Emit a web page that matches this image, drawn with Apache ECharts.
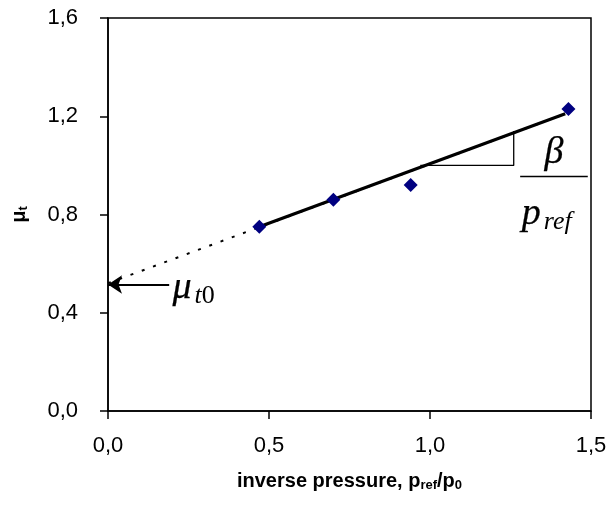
<!DOCTYPE html>
<html><head><meta charset="utf-8">
<script src="https://cdn.jsdelivr.net/npm/echarts@6/dist/echarts.min.js"></script>
<style>html,body{margin:0;padding:0;background:#fff}#c{width:610px;height:510px}</style>
</head><body><div id="c"></div>
<script>
// measured points
const pressureX = [0.47, 0.70, 0.94, 1.43];
const muT = [0.75, 0.86, 0.92, 1.23];
// fitted line
const fitX = [0.47, 1.42];
const fitY = [0.75, 1.21];
// extrapolation to intercept
const extX = [0, 1.42];
const extY = [0.52, 1.21];
// slope triangle
const triX = [0.97, 1.26, 1.26];
const triY = [1.0, 1.0, 1.14];
// fraction bar under beta
const barX = [1.28, 1.49];
const barY = [0.955, 0.955];
// intercept arrow
const arrowX = [0.19, 0.0];
const arrowY = [0.515, 0.515];
const xTicks = ['0,0','0,5','1,0','1,5'];
const yTicks = ['0,0','0,4','0,8','1,2','1,6'];

const zip = (a,b)=>a.map((v,i)=>[v,b[i]]);
const serif = 'Liberation Serif';
const sans = 'Liberation Sans';

const chart = echarts.init(document.getElementById('c'));
chart.setOption({
  animation:false,
  backgroundColor:'#fff',
  grid:{left:108,right:19,top:18,bottom:99,show:true,borderColor:'#000',borderWidth:1.5},
  xAxis:{type:'value',min:0,max:1.5,interval:0.5,
    axisLine:{show:true,lineStyle:{color:'#000',width:1.5}},
    axisTick:{show:true,length:8,lineStyle:{color:'#000',width:1.5}},
    splitLine:{show:false},
    axisLabel:{color:'#000',fontFamily:sans,fontSize:22,margin:24,
      formatter:v=>xTicks[Math.round(v/0.5)]},
    name:'inverse pressure, p{s|ref}/p{s|0}',nameLocation:'middle',nameGap:60,
    nameTextStyle:{color:'#000',fontFamily:sans,fontSize:20,fontWeight:'bold',
      rich:{s:{fontFamily:sans,fontSize:13,fontWeight:'bold',color:'#000',padding:[8,0,0,0]}}}
  },
  yAxis:{type:'value',min:0,max:1.6,interval:0.4,
    axisLine:{show:true,lineStyle:{color:'#000',width:1.5}},
    axisTick:{show:true,length:8,lineStyle:{color:'#000',width:1.5}},
    splitLine:{show:false},
    axisLabel:{color:'#000',fontFamily:sans,fontSize:22,margin:30,
      formatter:v=>yTicks[Math.round(v/0.4)]},
    name:'μ{s|t}',nameLocation:'middle',nameGap:78,nameRotate:90,
    nameTextStyle:{color:'#000',fontFamily:sans,fontSize:20,fontWeight:'bold',
      rich:{s:{fontFamily:sans,fontSize:13,fontWeight:'bold',color:'#000',padding:[8,0,0,0]}}}
  },
  series:[
    {type:'line',data:zip(extX,extY),symbol:'none',silent:true,
      lineStyle:{color:'#000',width:2,type:[3,9]},z:2},
    {type:'line',data:zip(fitX,fitY),symbol:'none',silent:true,
      lineStyle:{color:'#000',width:3.2},z:3},
    {type:'line',data:zip(triX,triY),symbol:'none',silent:true,
      lineStyle:{color:'#000',width:1.3},z:2},
    {type:'line',data:zip(barX,barY),symbol:'none',silent:true,
      lineStyle:{color:'#000',width:1.5},z:2},
    {type:'lines',coordinateSystem:'cartesian2d',silent:true,
      data:[{coords:zip(arrowX,arrowY)}],
      symbol:['none','arrow'],symbolSize:[0,14],
      lineStyle:{color:'#000',width:2,opacity:1},z:4},
    {type:'scatter',data:zip(pressureX,muT),symbol:'diamond',symbolSize:14,
      itemStyle:{color:'#000080',opacity:1},z:5},
    {type:'scatter',silent:true,symbolSize:0,z:6,itemStyle:{opacity:1},
      data:[
        {value:[1.385,1.05],label:{formatter:'{p|β}'}},
        {value:[1.285,0.80],label:{formatter:'{p|p}{s|ref}',align:'left'}},
        {value:[0.20,0.50],label:{formatter:'{p|μ}{s|t}{u|0}',align:'left'}}
      ],
      label:{show:true,position:'inside',color:'#000',opacity:1,fontFamily:serif,fontSize:38,fontStyle:'italic',
        rich:{p:{fontFamily:serif,fontSize:38,fontStyle:'italic',color:'#000',textBorderColor:'#000',textBorderWidth:0.25},
              s:{fontFamily:serif,fontSize:26,fontStyle:'italic',color:'#000',padding:[16,0,0,3]},
              u:{fontFamily:serif,fontSize:26,fontStyle:'normal',color:'#000',padding:[16,0,0,0]}}}
    }
  ]
});
</script></body></html>
